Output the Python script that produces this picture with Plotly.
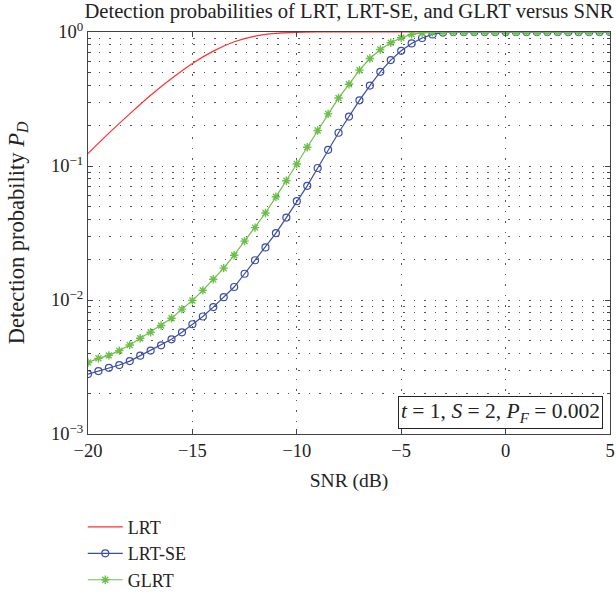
import plotly.graph_objects as go

# SNR grid (dB) for the simulated detectors
snr_marked = [-20 + 0.5 * i for i in range(51)]
snr_lrt = [-20, -19, -18, -17, -16, -15, -14, -13, -12, -11, -10, -9, -8, -7, -6, -5, -4, -3, -2, -1, 0, 1, 2, 3, 4, 5]

pd_lrt = [0.124, 0.176, 0.245, 0.337, 0.449, 0.582, 0.72, 0.845, 0.933, 0.977, 0.995,
          1, 1, 1, 1, 1, 1, 1, 1, 1, 1, 1, 1, 1, 1, 1]

pd_lrt_se = [0.0028, 0.00295, 0.00312, 0.00327, 0.0035, 0.00384, 0.00419, 0.00459, 0.00509, 0.00574,
             0.00659, 0.00753, 0.00885, 0.0105, 0.0125, 0.0157, 0.0198, 0.0247, 0.0316, 0.0412,
             0.0546, 0.0711, 0.0966, 0.132, 0.177, 0.234, 0.309, 0.398, 0.504, 0.617,
             0.724, 0.822, 0.902, 0.96, 0.99, 1, 1, 1, 1, 1,
             1, 1, 1, 1, 1, 1, 1, 1, 1, 1, 1]

pd_glrt = [0.00342, 0.00367, 0.00386, 0.00419, 0.00462, 0.00518, 0.00574, 0.00645, 0.00731, 0.00855,
           0.00993, 0.0118, 0.0143, 0.0173, 0.0216, 0.0275, 0.0347, 0.0446, 0.0589, 0.0776,
           0.1035, 0.138, 0.184, 0.245, 0.322, 0.407, 0.519, 0.634, 0.741, 0.831,
           0.906, 0.96, 0.985, 0.995, 1, 1, 1, 1, 1, 1,
           1, 1, 1, 1, 1, 1, 1, 1, 1, 1, 1]

x_ticks = [-20, -15, -10, -5, 0, 5]
x_tick_text = ["\u221220", "\u221215", "\u221210", "\u22125", "0", "5"]
y_ticks = [1e-3, 1e-2, 1e-1, 1]
y_tick_text = ["10<sup>\u22123</sup>", "10<sup>\u22122</sup>", "10<sup>\u22121</sup>", "10<sup>0</sup>"]
# minor log ticks 2..9 within each decade
y_minor = [m * 10.0 ** e for e in (-3, -2, -1) for m in range(2, 10)]

SERIF = "Liberation Serif, Times New Roman, serif"
TXT = "#222222"
AX = "#444444"
GRID = "#555555"
DOTS = "1.5px,9px"

fig = go.Figure()
fig.add_trace(go.Scatter(
    x=snr_lrt, y=pd_lrt, name="LRT", mode="lines",
    line=dict(color="#ff3030", width=1.2, shape="spline", smoothing=0.8),
))
fig.add_trace(go.Scatter(
    x=snr_marked, y=pd_lrt_se, name="LRT-SE", mode="lines+markers",
    line=dict(color="#3a4ea6", width=1.2),
    marker=dict(symbol="circle-open", size=7, color="#3a4ea6", line=dict(width=1.2)),
))
fig.add_trace(go.Scatter(
    x=snr_marked, y=pd_glrt, name="GLRT", mode="lines+markers",
    line=dict(color="#6cc04a", width=1.2),
    marker=dict(symbol="asterisk-open", size=7, color="#6cc04a", line=dict(width=1.4, color="#6cc04a")),
))

fig.update_layout(
    width=616, height=595,
    margin=dict(l=88, r=6, t=32, b=161, autoexpand=False),
    paper_bgcolor="white", plot_bgcolor="white",
    font=dict(family=SERIF, size=19, color=TXT),
    title=dict(
        text="Detection probabilities of LRT, LRT-SE, and GLRT versus SNR",
        x=0.5, xanchor="center", xref="paper", y=1 - 4 / 595, yanchor="top",
        font=dict(family=SERIF, size=20.6, color=TXT),
    ),
    showlegend=True,
    legend=dict(
        x=-0.01, xanchor="left", y=-0.186, yanchor="top",
        bgcolor="rgba(0,0,0,0)", font=dict(family=SERIF, size=18, color=TXT),
        tracegroupgap=0, itemwidth=35,
    ),
    annotations=[dict(
        text="<i>t</i> = 1, <i>S</i> = 2, <i>P</i><sub><i>F</i></sub> = 0.002",
        xref="paper", yref="paper", x=0.9866, y=0.0124, xanchor="right", yanchor="bottom",
        showarrow=False, bgcolor="white", bordercolor="#222222", borderwidth=1, borderpad=2,
        font=dict(family=SERIF, size=21.5, color=TXT),
    )],
)

fig.update_xaxes(
    range=[-20, 5], tickvals=x_ticks, ticktext=x_tick_text,
    showline=True, linecolor=AX, linewidth=1, mirror="allticks",
    ticks="inside", ticklen=5, tickcolor=AX,
    showgrid=True, gridcolor=GRID, griddash=DOTS, gridwidth=1,
    zeroline=False, automargin=False,
    title=dict(text="SNR (dB)", standoff=13, font=dict(family=SERIF, size=19.5, color=TXT)),
    tickfont=dict(family=SERIF, size=18.5, color=TXT),
)
fig.update_yaxes(
    type="log", range=[-3, 0], tickvals=y_ticks, ticktext=y_tick_text,
    showline=True, linecolor=AX, linewidth=1, mirror="allticks",
    ticks="inside", ticklen=5, tickcolor=AX,
    showgrid=True, gridcolor=GRID, griddash=DOTS, gridwidth=1,
    minor=dict(tickvals=y_minor, ticks="inside", ticklen=3, tickcolor=AX, showgrid=True,
               gridcolor=GRID, griddash=DOTS, gridwidth=1),
    zeroline=False, automargin=False,
    title=dict(text="Detection probability <i>P</i><sub><i>D</i></sub>", standoff=20,
               font=dict(family=SERIF, size=22.5, color=TXT)),
    tickfont=dict(family=SERIF, size=18.5, color=TXT),
)

fig.write_html("out.html")
